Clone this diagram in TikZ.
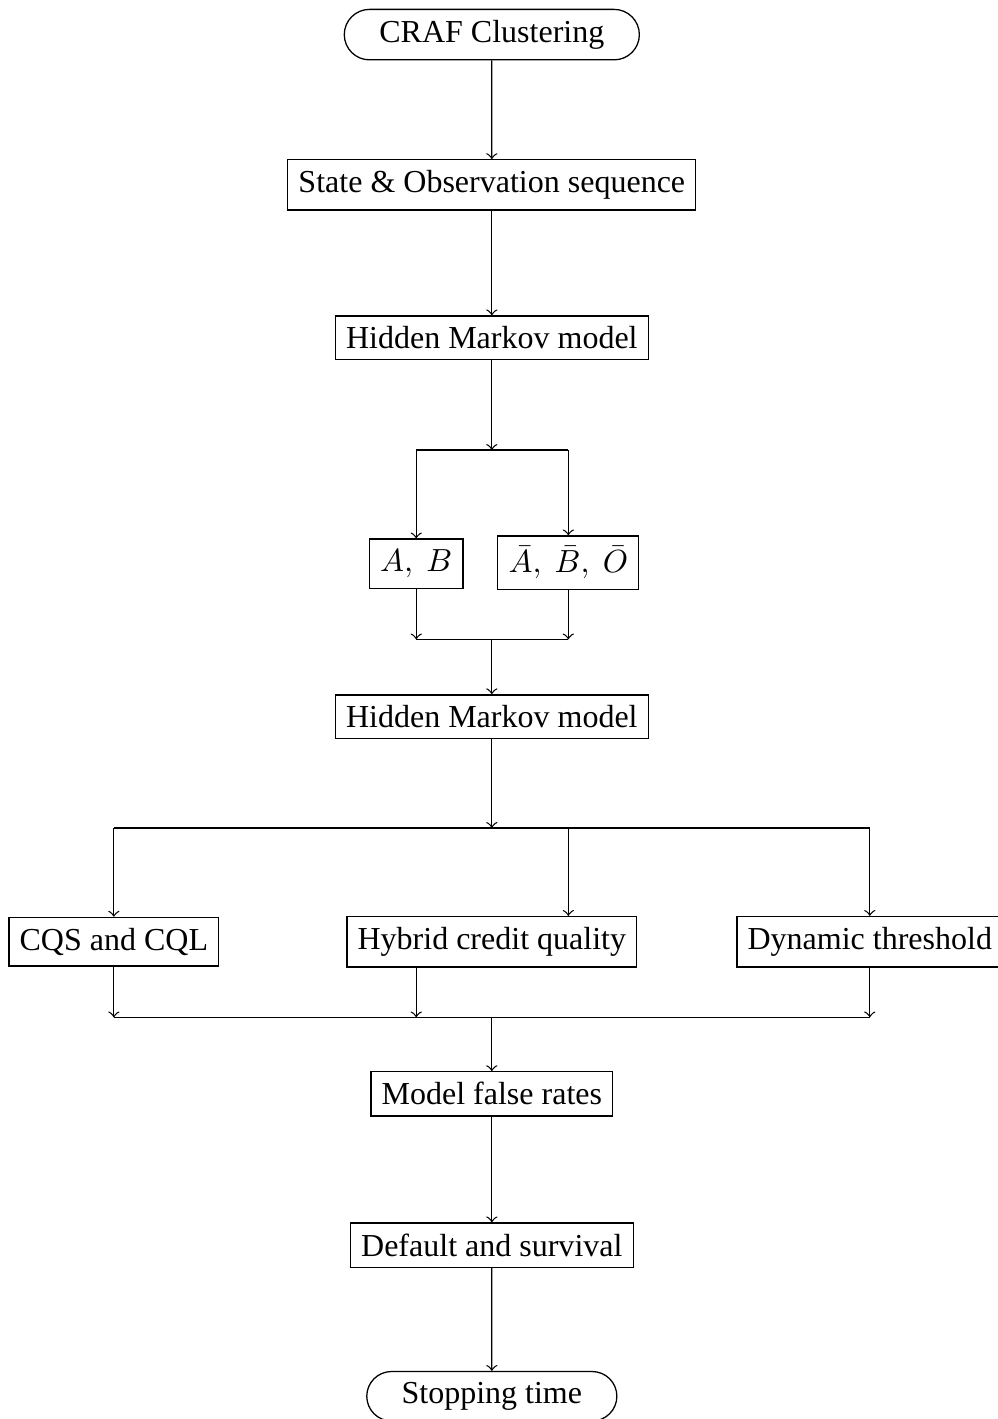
\documentclass[tikz,border=0pt]{standalone}
\usepackage{fontspec}
\setmainfont{Liberation Serif}
\usetikzlibrary{shapes.misc}

\begin{document}
\begin{tikzpicture}[>=to]
	\tikzstyle{block}=[draw, rectangle]
	\tikzstyle{terminal}=[draw, rounded rectangle, inner xsep=9.5pt]
	\useasboundingbox (0,0) rectangle (10.95,-15.58);
	% nodes
	\node [terminal] (craf) at (5.40,-0.38) {CRAF Clustering};
	\node [block] (seq) at (5.40,-2.03) {State \& Observation sequence};
	\node [block] (hmm) at (5.40,-3.71) {Hidden Markov model};
	\node [block] (ab) at (4.57,-6.19) {$A,\ B$};
	\node [block] (abo) at (6.24,-6.18) {$\bar{A},\ \bar{B},\ \bar{O}$};
	\node [block] (hmmb) at (5.40,-7.87) {Hidden Markov model};
	\node [block] (cqs) at (1.25,-10.34) {CQS and CQL};
	\node [block] (hyb) at (5.40,-10.34) {Hybrid credit quality};
	\node [block] (dyn) at (9.55,-10.34) {Dynamic threshold};
	\node [block] (mfr) at (5.40,-12.01) {Model false rates};
	\node [block] (def) at (5.40,-13.67) {Default and survival};
	\node [terminal] (stop) at (5.40,-15.33) {Stopping time};
	% split and join points
	\coordinate (sa) at (5.40,-4.94);
	\coordinate (ja) at (5.40,-7.02);
	\coordinate (sb) at (5.40,-9.09);
	\coordinate (jb) at (5.40,-11.17);
	% connectors
	\draw [->] (craf) -- (seq);
	\draw [->] (seq) -- (hmm);
	\draw [->] (hmm) -- (sa);
	\draw (sa -| ab) -- (sa -| abo);
	\draw [->] (sa -| ab) -- (ab);
	\draw [->] (sa -| abo) -- (abo);
	\draw [->] (ab) -- (ja -| ab);
	\draw [->] (abo) -- (ja -| abo);
	\draw (ja -| ab) -- (ja -| abo);
	\draw [->] (ja) -- (hmmb);
	\draw [->] (hmmb) -- (sb);
	\draw (sb -| cqs) -- (sb -| dyn);
	\draw [->] (sb -| cqs) -- (cqs);
	\draw [->] (sb -| abo) -- (hyb.north -| abo);
	\draw [->] (sb -| dyn) -- (dyn);
	\draw [->] (cqs) -- (jb -| cqs);
	\draw [->] (hyb.south -| ab) -- (jb -| ab);
	\draw [->] (dyn) -- (jb -| dyn);
	\draw (jb -| cqs) -- (jb -| dyn);
	\draw [->] (jb) -- (mfr);
	\draw [->] (mfr) -- (def);
	\draw [->] (def) -- (stop);
\end{tikzpicture}
\end{document}
